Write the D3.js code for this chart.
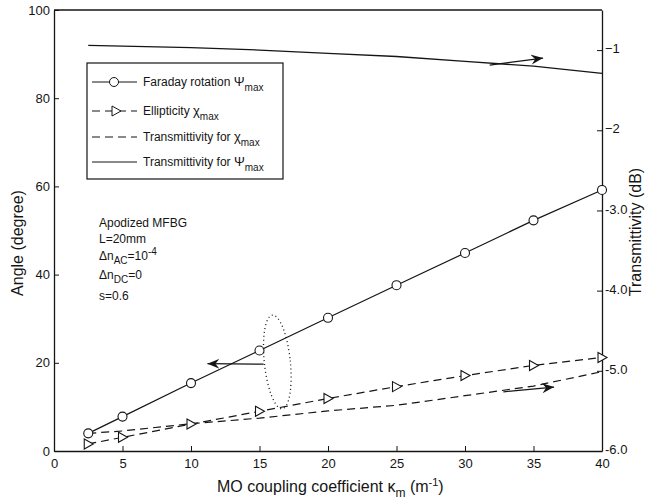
<!DOCTYPE html>
<html>
<head>
<meta charset="utf-8">
<script src="https://cdn.jsdelivr.net/npm/d3@7"></script>
<style>
  body { margin: 0; background: #fff; }
  svg { display: block; font-family: 'Liberation Sans', Arial, sans-serif; }
</style>
</head>
<body>
<script>
// MO coupling coefficient (m^-1)
const kappa = [2.5, 5, 10, 15, 20, 25, 30, 35, 40]
// left axis, degree
const faraday = [4.0, 7.8, 15.4, 22.8, 30.2, 37.6, 44.9, 52.3, 59.2]
const ellipticity = [1.6, 3.1, 6.1, 9.0, 11.9, 14.6, 17.1, 19.4, 21.2]
// right axis, dB
const transChi = [-5.78, -5.75, -5.66, -5.59, -5.5, -5.43, -5.31, -5.19, -5.01]
const transPsi = [-0.94, -0.95, -0.97, -1.0, -1.04, -1.08, -1.14, -1.2, -1.29]

const xTicks = [0, 5, 10, 15, 20, 25, 30, 35, 40]
const leftTicks = [0, 20, 40, 60, 80, 100]
const rightTicks = [-1, -2, -3, -4, -5, -6]

const legendLabels = [
  ['Faraday rotation ', '\u03A8', 'max'],
  ['Ellipticity ', '\u03C7', 'max'],
  ['Transmittivity for  ', '\u03C7', 'max'],
  [' Transmittivity for ', '\u03A8', 'max']
]

// annotation arrows in data coords (x, left-axis angle)
const arrows = [
  { from: [31.8, 87.5], to: [35.7, 89.1] },
  { from: [15.3, 19.7], to: [11.2, 19.8] },
  { from: [32.8, 13.4], to: [36.5, 14.5] }
]
const ellipseCenter = [16.3, 20.2]

const outerWidth = 646
const outerHeight = 502
const ink = '#151515'

const svg = d3
  .select('body')
  .append('svg')
  .attr('width', outerWidth)
  .attr('height', outerHeight)

const xScale = d3.scaleLinear().domain([0, 40]).range([54, 602])
const yLeft = d3.scaleLinear().domain([0, 100]).range([451, 10])
const yRight = d3.scaleLinear().domain([-6, -0.5]).range([451, 10])

// arrow head marker
svg
  .append('defs')
  .append('marker')
  .attr('id', 'head')
  .attr('viewBox', '-12 -6 14 12')
  .attr('markerWidth', 14)
  .attr('markerHeight', 12)
  .attr('markerUnits', 'userSpaceOnUse')
  .attr('refX', 0)
  .attr('refY', 0)
  .attr('orient', 'auto')
  .append('path')
  .attr('d', 'M0,0 L-12,-5 L-8,0 L-12,5 Z')
  .style('fill', ink)

// frame top line
svg
  .append('line')
  .attr('x1', xScale(0))
  .attr('x2', xScale(40))
  .attr('y1', yLeft(100))
  .attr('y2', yLeft(100))
  .style('stroke', ink)
  .style('stroke-width', 1.3)

// axes
const xAxis = d3
  .axisBottom(xScale)
  .tickValues(xTicks)
  .tickSizeInner(-5)
  .tickSizeOuter(0)
  .tickPadding(5)
  .tickFormat(d3.format('d'))
const leftAxis = d3
  .axisLeft(yLeft)
  .tickValues(leftTicks)
  .tickSizeInner(-5)
  .tickSizeOuter(0)
  .tickPadding(4)
const rightAxis = d3
  .axisRight(yRight)
  .tickValues(rightTicks)
  .tickSizeInner(-5)
  .tickSizeOuter(0)
  .tickPadding(3)
  .tickFormat(d => (d >= -2 ? d3.format('d')(d) : d.toFixed(1)))

const xAxisG = svg
  .append('g')
  .attr('transform', `translate(0,${yLeft(0)})`)
  .call(xAxis)
const leftAxisG = svg
  .append('g')
  .attr('transform', `translate(${xScale(0)},0)`)
  .call(leftAxis)
const rightAxisG = svg
  .append('g')
  .attr('transform', `translate(${xScale(40)},0)`)
  .call(rightAxis)

;[xAxisG, leftAxisG, rightAxisG].forEach(g => {
  g.select('.domain').style('stroke', ink).style('stroke-width', 1.3)
  g.selectAll('.tick line').style('stroke', ink)
  g.selectAll('.tick text')
    .style('fill', ink)
    .style('font-size', '13px')
    .style('font-family', "'Liberation Sans', Arial, sans-serif")
})
xAxisG.selectAll('.tick text').attr('y', 8)
rightAxisG.selectAll('.tick text').attr('dy', '0.2em')

// axis titles
svg
  .append('text')
  .attr('transform', `translate(23,243) rotate(-90)`)
  .style('text-anchor', 'middle')
  .style('font-size', '16px')
  .style('fill', ink)
  .text('Angle (degree)')

svg
  .append('text')
  .attr('transform', `translate(641,232) rotate(-90)`)
  .style('text-anchor', 'middle')
  .style('font-size', '16px')
  .style('fill', ink)
  .text('Transmittivity (dB)')

const xTitle = svg
  .append('text')
  .attr('x', 217)
  .attr('y', 492)
  .style('font-size', '16px')
  .style('fill', ink)
xTitle.append('tspan').text('MO coupling coefficient \u03BA')
xTitle.append('tspan').attr('dy', 5).style('font-size', '12px').text('m')
xTitle.append('tspan').attr('dy', -5).text(' (m')
xTitle.append('tspan').attr('dy', -6).style('font-size', '11px').text('-1')
xTitle.append('tspan').attr('dy', 6).text(')')

// series
const pts = vals => kappa.map((k, i) => [k, vals[i]])

const lineLeft = d3
  .line()
  .x(d => xScale(d[0]))
  .y(d => yLeft(d[1]))
const lineRight = d3
  .line()
  .x(d => xScale(d[0]))
  .y(d => yRight(d[1]))

svg
  .append('path')
  .attr('d', lineRight(pts(transPsi)))
  .style('fill', 'none')
  .style('stroke', ink)
  .style('stroke-width', 1.3)

svg
  .append('path')
  .attr('d', lineRight(pts(transChi)))
  .style('fill', 'none')
  .style('stroke', ink)
  .style('stroke-width', 1.2)
  .style('stroke-dasharray', '8,5')

svg
  .append('path')
  .attr('d', lineLeft(pts(ellipticity)))
  .style('fill', 'none')
  .style('stroke', ink)
  .style('stroke-width', 1.2)
  .style('stroke-dasharray', '8,5')

svg
  .append('path')
  .attr('d', lineLeft(pts(faraday)))
  .style('fill', 'none')
  .style('stroke', ink)
  .style('stroke-width', 1.2)

const triPath = 'M-4,-5 L5,0 L-4,5 Z'

svg
  .selectAll('.tri')
  .data(pts(ellipticity))
  .enter()
  .append('path')
  .attr('class', 'tri')
  .attr('d', triPath)
  .attr('transform', d => `translate(${xScale(d[0])},${yLeft(d[1])})`)
  .style('fill', '#fff')
  .style('stroke', ink)
  .style('stroke-width', 1.1)

svg
  .selectAll('.circ')
  .data(pts(faraday))
  .enter()
  .append('circle')
  .attr('class', 'circ')
  .attr('cx', d => xScale(d[0]))
  .attr('cy', d => yLeft(d[1]))
  .attr('r', 4.5)
  .style('fill', '#fff')
  .style('stroke', ink)
  .style('stroke-width', 1.1)

// annotations
svg
  .selectAll('.arrow')
  .data(arrows)
  .enter()
  .append('line')
  .attr('class', 'arrow')
  .attr('x1', d => xScale(d.from[0]))
  .attr('y1', d => yLeft(d.from[1]))
  .attr('x2', d => xScale(d.to[0]))
  .attr('y2', d => yLeft(d.to[1]))
  .attr('marker-end', 'url(#head)')
  .style('stroke', ink)
  .style('stroke-width', 1.2)

svg
  .append('ellipse')
  .attr('cx', xScale(ellipseCenter[0]))
  .attr('cy', yLeft(ellipseCenter[1]))
  .attr('rx', 13)
  .attr('ry', 47)
  .attr(
    'transform',
    `rotate(-6,${xScale(ellipseCenter[0])},${yLeft(ellipseCenter[1])})`
  )
  .style('fill', 'none')
  .style('stroke', ink)
  .style('stroke-width', 1.3)
  .style('stroke-dasharray', '1,3')

// parameter block
const info = svg
  .append('g')
  .attr('transform', 'translate(99,0)')
  .style('font-size', '12px')
  .style('fill', ink)
info.append('text').attr('y', 227).text('Apodized MFBG')
info.append('text').attr('y', 243).text('L=20mm')
const ac = info.append('text').attr('y', 260)
ac.append('tspan').text('\u0394n')
ac.append('tspan').attr('dy', 4).style('font-size', '10px').text('AC')
ac.append('tspan').attr('dy', -4).text('=10')
ac.append('tspan').attr('dy', -5).style('font-size', '10px').text('-4')
const dc = info.append('text').attr('y', 279)
dc.append('tspan').text('\u0394n')
dc.append('tspan').attr('dy', 4).style('font-size', '10px').text('DC')
dc.append('tspan').attr('dy', -4).text('=0')
info.append('text').attr('y', 300).text('s=0.6')

// legend
const legend = svg.append('g')
legend
  .append('rect')
  .attr('x', 87)
  .attr('y', 63)
  .attr('width', 196)
  .attr('height', 116)
  .style('fill', '#fff')
  .style('stroke', ink)
  .style('stroke-width', 1.2)

const legendY = [82, 111, 137, 162]
const legendDash = [null, '8,5', '8,5', null]

legendLabels.forEach((lab, i) => {
  const y = legendY[i]
  legend
    .append('line')
    .attr('x1', 92)
    .attr('x2', 137)
    .attr('y1', y)
    .attr('y2', y)
    .style('stroke', ink)
    .style('stroke-width', 1.2)
    .style('stroke-dasharray', legendDash[i])
  if (i === 0) {
    legend
      .append('circle')
      .attr('cx', 114)
      .attr('cy', y)
      .attr('r', 4.5)
      .style('fill', '#fff')
      .style('stroke', ink)
  }
  if (i === 1) {
    legend
      .append('path')
      .attr('d', triPath)
      .attr('transform', `translate(116,${y})`)
      .style('fill', '#fff')
      .style('stroke', ink)
  }
  const t = legend
    .append('text')
    .attr('x', 143)
    .attr('y', y + 4)
    .style('font-size', '12px')
    .style('fill', ink)
  t.append('tspan').text(lab[0])
  t.append('tspan').style('font-size', '13px').text(lab[1])
  t.append('tspan').attr('dy', 5).style('font-size', '10px').text(lab[2])
})
</script>
</body>
</html>
